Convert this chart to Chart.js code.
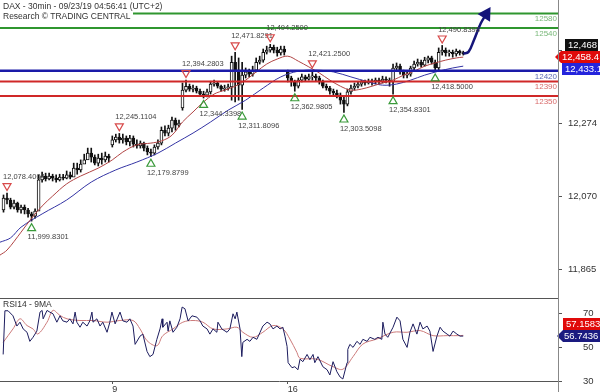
<!DOCTYPE html>
<html>
<head>
<meta charset="utf-8">
<script src="https://cdn.jsdelivr.net/npm/chart.js@4.4.1/dist/chart.umd.min.js"></script>
<style>
  body { margin: 0; background: #fff; }
  #wrap { position: relative; width: 600px; height: 392px; overflow: hidden; background: #fff; }
  #main { position: absolute; left: 0; top: 0; }
  #rsi { position: absolute; left: 0; top: 299px; }
  #sep { position: absolute; left: 0; top: 298px; width: 558px; height: 1px; background: #555; }
  #axisline { position: absolute; left: 558px; top: 0; width: 1px; height: 392px; background: #888; }
  #title { position: absolute; left: 0; top: 1px; font: 8.5px 'Liberation Sans', Arial, sans-serif; color: #333; line-height: 10px; }
  #title div { display: table; background: #fff; padding: 0 2px 0 3px; }
</style>
</head>
<body>
<div id="wrap">
  <canvas id="main" width="600" height="298"></canvas>
  <div id="sep"></div>
  <canvas id="rsi" width="600" height="93"></canvas>
  <div id="axisline"></div>
  <div id="title"><div>DAX - 30min - 09/23/19 04:56:41 (UTC+2)</div><div>Research © TRADING CENTRAL</div></div>
</div>
<script>
Chart.defaults.font.family = "'Liberation Sans', Arial, sans-serif";
Chart.defaults.color = '#333';

// time slots (about 10 per trading day), first candle sits in slot 1
const slotMax = 159;
const firstSlot = 1;
const dayTicks = [32, 82];
const dayLabels = ['9', '16'];

// 30min DAX candles
const priceOpen = [12031,12064,12059,12039,12050,12031,12039,12031,12020,12014,
  12028,12115,12126,12118,12126,12120,12115,12123,12120,12129,
  12123,12148,12143,12159,12171,12190,12179,12162,12176,12171,
  12182,12213,12227,12235,12227,12232,12221,12232,12215,12210,
  12218,12204,12193,12190,12207,12218,12254,12246,12260,12282,
  12268,12316,12366,12377,12369,12372,12363,12355,12352,12361,
  12383,12386,12377,12369,12372,12375,12444,12422,12380,12408,
  12417,12411,12422,12444,12450,12472,12478,12486,12478,12470,
  12481,12417,12400,12389,12377,12394,12403,12397,12403,12405,
  12400,12389,12377,12372,12363,12358,12352,12338,12327,12361,
  12372,12377,12383,12389,12386,12391,12389,12394,12391,12397,
  12394,12389,12428,12433,12417,12408,12411,12428,12439,12444,
  12436,12450,12456,12444,12428,12472,12478,12470,12472,12467,
  12475,12470];
const priceHigh = [12073,12078,12064,12059,12053,12045,12045,12036,12025,12034,
  12129,12137,12134,12134,12131,12129,12131,12131,12140,12137,
  12162,12162,12171,12187,12204,12204,12185,12187,12190,12193,
  12187,12238,12243,12245,12243,12238,12240,12238,12227,12224,
  12221,12210,12201,12213,12227,12263,12266,12268,12291,12288,
  12282,12386,12394,12383,12380,12377,12369,12363,12369,12391,
  12394,12389,12380,12380,12383,12461,12472,12456,12444,12428,
  12425,12433,12456,12461,12481,12489,12494,12492,12486,12489,
  12489,12422,12405,12394,12400,12411,12408,12411,12421,12411,
  12405,12394,12383,12377,12369,12366,12358,12347,12369,12380,
  12386,12391,12394,12394,12397,12397,12400,12400,12405,12403,
  12400,12439,12442,12439,12422,12419,12433,12447,12453,12450,
  12458,12461,12461,12450,12484,12491,12484,12478,12478,12481,
  12478,12475];
const priceLow = [12025,12048,12034,12034,12025,12022,12020,12011,12000,12008,
  12087,12109,12112,12115,12112,12109,12112,12115,12118,12118,
  12137,12131,12137,12162,12176,12165,12157,12154,12159,12165,
  12165,12207,12221,12218,12218,12213,12210,12207,12204,12204,
  12196,12185,12180,12185,12201,12213,12238,12238,12249,12254,
  12263,12310,12361,12363,12361,12358,12349,12344,12347,12355,
  12377,12372,12363,12363,12366,12338,12333,12338,12312,12400,
  12403,12405,12417,12439,12444,12467,12472,12470,12461,12464,
  12464,12389,12377,12363,12372,12389,12391,12394,12394,12391,
  12383,12372,12366,12355,12349,12344,12327,12304,12322,12355,
  12366,12372,12377,12380,12383,12380,12383,12383,12386,12386,
  12377,12355,12419,12411,12400,12400,12405,12422,12433,12430,
  12433,12442,12439,12419,12422,12464,12461,12461,12458,12461,
  12464,12464];
const priceClose = [12064,12059,12039,12050,12031,12039,12031,12020,12014,12028,
  12115,12126,12118,12126,12120,12115,12123,12120,12129,12123,
  12148,12143,12159,12171,12190,12179,12162,12176,12171,12182,
  12176,12227,12235,12227,12232,12221,12232,12215,12210,12218,
  12204,12193,12190,12207,12218,12254,12246,12260,12282,12268,
  12274,12366,12377,12369,12372,12363,12355,12352,12361,12383,
  12386,12377,12369,12372,12375,12444,12422,12380,12408,12417,
  12411,12422,12444,12450,12472,12478,12486,12478,12470,12481,
  12472,12400,12389,12377,12394,12403,12397,12403,12405,12400,
  12389,12377,12372,12363,12358,12352,12338,12327,12361,12372,
  12377,12383,12389,12386,12391,12389,12394,12391,12397,12394,
  12389,12428,12433,12417,12408,12411,12428,12439,12444,12436,
  12450,12456,12444,12428,12472,12478,12470,12472,12467,12475,
  12470,12468];

// moving averages on price
const maFastSlot = [0,2,6,9,12,15,19,23,28,32,35,39,43,46,49,52,55,58,61,64,67,70,73,76,79,82,85,88,91,94,97,100,103,106,109,112,115,118,121,124,127,130,132];
const maFastValue = [11905,11919,11969,12008,12042,12070,12104,12126,12148,12171,12193,12213,12218,12224,12240,12277,12305,12333,12355,12366,12377,12394,12417,12439,12453,12461,12447,12431,12414,12394,12377,12366,12369,12377,12386,12394,12408,12419,12433,12442,12450,12456,12458.4];
const maSlowSlot = [0,3,6,12,19,26,33,39,45,50,55,60,65,70,75,80,85,90,95,100,105,109,113,117,121,125,129,132];
const maSlowValue = [11941,11953,11983,12020,12059,12109,12143,12165,12190,12218,12246,12277,12310,12338,12372,12403,12419,12422,12417,12403,12389,12380,12383,12394,12408,12419,12428,12433.1];

// support / resistance levels
const levelValues = [12580, 12540, 12420, 12390, 12350];
const levelLineColors = ['#2f962f', '#2f962f', '#1a1aa8', '#d02828', '#d02828'];
const levelTextColors = ['#79b879', '#79b879', '#5a68b4', '#d86a6a', '#d86a6a'];

// swing highs / lows
const swingSlot = [2, 9, 34, 43, 53, 58, 67, 69, 77, 84, 89, 98, 112, 124, 126];
const swingPrice = [12078.4004, 11999.8301, 12245.1104, 12179.8799, 12394.2803, 12344.3398, 12471.8291, 12311.8096, 12494.25, 12362.9805, 12421.25, 12303.5098, 12354.8301, 12418.5, 12490.8398];
const swingKind = ['high','low','high','low','high','low','high','low','high','low','high','low','low','low','high'];

// projected path
const arrowSlot = [132, 133.5, 135, 137, 138.5];
const arrowValue = [12468, 12473, 12505, 12553, 12578];

// RSI14 and its 9MA
const rsiSlot = [0.9,1.4,2.3,3.7,4.8,5.7,6.6,7.7,8.5,9.4,10.5,11.4,12,12.3,13.4,14.2,15.1,16.2,17.1,17.9,
  19.1,19.9,20.8,21.4,21.9,22.8,23.6,24.8,25.6,26.2,26.5,27.6,28.5,29.3,30.5,31.3,31.9,32.8,34.2,35,
  36.2,37,37.9,38.5,39.9,40.7,41.9,42.7,43.6,44.7,45.6,46.2,46.4,47.6,47.9,48.4,49.3,50.4,51.3,51.9,
  52.7,53.6,54.7,56.1,57,57.8,59,59.8,60.7,61.8,62.1,63.2,64.7,65.5,66.4,67,67.5,68.4,68.9,69.2,
  70.4,71.2,72.1,73.2,74.1,74.9,76.1,76.9,77.8,78.9,79.8,80.6,81.2,81.8,82.1,83.2,84,84.9,85.5,86.3,
  87.5,88.3,89.2,89.7,90.6,92,93.2,94,94.9,96,96.9,97.7,98.9,99.1,99.7,100.6,101.7,102.6,103.4,104.6,
  105.4,106.8,107.7,108.8,109.1,109.7,110.5,112,113.1,114,114.8,116,116.8,117.7,118.8,119.7,120.5,121.7,122.5,123.4,
  124.5,125.4,126.2,127.4,128.2,129.1,130.2,131.1,132];
const rsiValue = [45.8,71.8,71.8,68.8,62.7,65,61,59,53.6,56,59.7,71,72,67,72,71,70,65,68.8,65.8,
  65,67,64,71,65,62,65,62.7,65.8,71,65,67,62.7,65,59,65,71,64,71,65.8,
  65,67,62.7,51.8,56.7,57.9,47.6,44.5,45.8,54.8,61,67,62,65,59.7,65.8,59,62,67,74,
  73,65.8,68.8,68,65.8,62.7,61,57.9,61,59,65,61,59,61,70,67,71,61,44.5,53,
  54.8,53.6,56,54.8,59,62.7,65,64,61,62.7,61,62,56.7,50.6,40.9,37.9,38.5,36.7,43,41.5,
  45.8,42.7,45.8,40.9,44.5,38.5,36.7,33.6,41.5,35.5,32.4,31.2,40.9,48.8,51.8,50,53.6,51.8,54.8,53.6,
  56,54.8,56,54.8,65,57.9,56,62,68,65.8,54.8,50,59,64,57.9,65,61,62.7,59.7,47.6,
  56.7,62,59.7,57.9,56.7,59.7,57.9,56.7,56.7436];
const rsiMaSlot = [0.9,3.7,5.7,7.7,9.4,10.8,13.4,15.1,17.1,19.1,22.8,26.5,30.5,34.2,37.9,39.9,41.9,44.7,46.4,49.3,
  52.1,55,57.8,60.7,64.7,67.5,69.2,72.1,74.9,77.8,80.6,82.6,84.6,85.5,90.3,94.9,97.7,100.6,103.4,107.4,
  112,116,119.7,123.4,127.4,131.1,132];
const rsiMaValue = [53,61,67,63,61,58,65,72,69,67,66,66,65,66,66,61,54,51,57,61,
  65,66,65,61,61,62,59,56,59,63,61,55,47,43.5,43,38.5,37,44.5,52,55,
  59,59,60,57,57,57,57.1583];

const priceTicks = [11865, 12070, 12274, 12478];
const rsiTicks = [30, 50, 70];

function pts(xs, ys) {
  return xs.map((x, i) => ({x: x, y: ys[i]}));
}

function rightAxis(min, max, ticks, pad, fmt) {
  return {
    position: 'right', min: min, max: max,
    afterFit: s => { s.width = 42; s.paddingTop = 0; s.paddingBottom = 0; },
    afterBuildTicks: s => { s.ticks = ticks.map(v => ({value: v})); },
    grid: {display: true, drawOnChartArea: false, drawTicks: true, tickLength: 4, color: '#555'},
    border: {display: false},
    ticks: {padding: pad, font: {size: 9.5}, color: '#333', callback: fmt}
  };
}

function tag(ctx, text, cy, left, right, fill, arrow) {
  const h = 12;
  ctx.fillStyle = fill;
  ctx.beginPath();
  if (arrow) {
    ctx.moveTo(left, cy);
    ctx.lineTo(left + 6, cy - h / 2);
    ctx.lineTo(right, cy - h / 2);
    ctx.lineTo(right, cy + h / 2);
    ctx.lineTo(left + 6, cy + h / 2);
  } else {
    ctx.rect(left, cy - h / 2, right - left, h);
  }
  ctx.closePath();
  ctx.fill();
  ctx.fillStyle = '#fff';
  ctx.font = "9.5px 'Liberation Sans', Arial, sans-serif";
  ctx.textAlign = 'left';
  ctx.textBaseline = 'middle';
  ctx.fillText(text, arrow ? left + 7 : left + 3, cy + 0.5);
}

function triangle(ctx, cx, cy, down, color) {
  const w = 4, h = 3.5;
  ctx.beginPath();
  if (down) {
    ctx.moveTo(cx - w, cy - h); ctx.lineTo(cx + w, cy - h); ctx.lineTo(cx, cy + h);
  } else {
    ctx.moveTo(cx - w, cy + h); ctx.lineTo(cx + w, cy + h); ctx.lineTo(cx, cy - h);
  }
  ctx.closePath();
  ctx.strokeStyle = color;
  ctx.lineWidth = 1.2;
  ctx.stroke();
}

const fmt4 = v => v.toLocaleString('en-US', {minimumFractionDigits: 4, maximumFractionDigits: 4});
const fmt1 = v => v.toLocaleString('en-US', {minimumFractionDigits: 1, maximumFractionDigits: 1});

const mainOverlay = {
  id: 'mainOverlay',
  afterDatasetsDraw(chart) {
    const {ctx, chartArea} = chart;
    const x = chart.scales.x, y = chart.scales.y;
    ctx.save();
    ctx.font = "8px 'Liberation Sans', Arial, sans-serif";
    ctx.textAlign = 'right';
    ctx.textBaseline = 'middle';
    levelValues.forEach((v, i) => {
      ctx.fillStyle = levelTextColors[i];
      ctx.fillText(String(v), chartArea.right - 1, y.getPixelForValue(v) + 5.5);
    });
    ctx.font = "7.5px 'Liberation Sans', Arial, sans-serif";
    ctx.textAlign = 'left';
    swingSlot.forEach((s, i) => {
      const px = x.getPixelForValue(s);
      const py = y.getPixelForValue(swingPrice[i]);
      const high = swingKind[i] === 'high';
      triangle(ctx, px, high ? py - 6 : py + 6, high, high ? '#d84a4a' : '#3a9a3a');
      ctx.fillStyle = '#444';
      ctx.fillText(fmt4(swingPrice[i]), px - 4, high ? py - 16 : py + 16);
    });
    ctx.restore();
  },
  afterDraw(chart) {
    const {ctx} = chart;
    const y = chart.scales.y;
    const fast = maFastValue[maFastValue.length - 1];
    const slow = maSlowValue[maSlowValue.length - 1];
    const last = priceClose[priceClose.length - 1];
    const yr = y.getPixelForValue(fast);
    ctx.save();
    tag(ctx, last.toLocaleString('en-US'), yr - 12, 565, 598, '#111', false);
    tag(ctx, fmt1(fast), yr, 555, 600, '#e00a0a', true);
    tag(ctx, fmt1(slow), yr + 12, 562, 600, '#2424dc', false);
    ctx.restore();
  }
};

const levelSets = levelValues.map((v, i) => ({
  type: 'line',
  data: [{x: 0, y: v}, {x: slotMax, y: v}],
  borderColor: levelLineColors[i],
  borderWidth: i === 2 ? 2.5 : 2,
  pointRadius: 0,
  order: 1
}));

// hollow bodies for rising candles, solid for falling ones
const bodyFill = priceOpen.map((o, i) => priceClose[i] >= o ? '#fff' : '#111');

new Chart(document.getElementById('main'), {
  type: 'bar',
  data: {
    datasets: [
      {
        type: 'line',
        data: pts(arrowSlot, arrowValue),
        borderColor: '#15157a',
        backgroundColor: '#15157a',
        borderWidth: 2.5,
        tension: 0.4,
        pointRadius: [0, 0, 0, 0, 6],
        pointStyle: 'triangle',
        rotation: 32,
        order: 0
      },
      ...levelSets,
      {
        type: 'line',
        data: pts(maFastSlot, maFastValue),
        borderColor: '#b04444',
        borderWidth: 1,
        tension: 0.35,
        pointRadius: 0,
        order: 2
      },
      {
        type: 'line',
        data: pts(maSlowSlot, maSlowValue),
        borderColor: '#3434a4',
        borderWidth: 1,
        tension: 0.35,
        pointRadius: 0,
        order: 2
      },
      {
        data: priceOpen.map((o, i) => ({x: i + firstSlot, y: [o, priceClose[i]]})),
        backgroundColor: bodyFill,
        borderColor: '#111',
        borderWidth: 1,
        borderSkipped: false,
        barThickness: 3,
        minBarLength: 1,
        grouped: false,
        order: 3
      },
      {
        data: priceLow.map((l, i) => ({x: i + firstSlot, y: [l, priceHigh[i]]})),
        backgroundColor: '#111',
        barThickness: 1,
        grouped: false,
        order: 4
      }
    ]
  },
  options: {
    responsive: false,
    animation: false,
    events: [],
    layout: {padding: 0, autoPadding: false},
    plugins: {legend: {display: false}, tooltip: {enabled: false}},
    scales: {
      x: {type: 'linear', min: 0, max: slotMax, display: false, offset: false, grid: {offset: false}},
      y: rightAxis(11785, 12618, priceTicks, 6, v => v.toLocaleString('en-US'))
    }
  },
  plugins: [mainOverlay]
});

const rsiOverlay = {
  id: 'rsiOverlay',
  afterDraw(chart) {
    const {ctx} = chart;
    const y = chart.scales.y;
    const rsiLast = rsiValue[rsiValue.length - 1];
    const maLast = rsiMaValue[rsiMaValue.length - 1];
    const yb = y.getPixelForValue(rsiLast);
    ctx.save();
    ctx.font = "8.5px 'Liberation Sans', Arial, sans-serif";
    ctx.fillStyle = '#333';
    ctx.textAlign = 'left';
    ctx.textBaseline = 'middle';
    ctx.fillText('RSI14 - 9MA', 3, 6);
    tag(ctx, maLast.toFixed(4), yb - 12, 563, 600, '#e00a0a', false);
    tag(ctx, rsiLast.toFixed(4), yb, 557, 600, '#1a1a80', true);
    ctx.restore();
  }
};

new Chart(document.getElementById('rsi'), {
  type: 'line',
  data: {
    datasets: [
      {
        data: pts(rsiSlot, rsiValue),
        borderColor: '#1c1c5e',
        borderWidth: 1,
        tension: 0,
        pointRadius: 0
      },
      {
        data: pts(rsiMaSlot, rsiMaValue),
        borderColor: '#cc7a7a',
        borderWidth: 1,
        tension: 0.35,
        pointRadius: 0
      }
    ]
  },
  options: {
    responsive: false,
    animation: false,
    events: [],
    layout: {padding: 0, autoPadding: false},
    plugins: {legend: {display: false}, tooltip: {enabled: false}},
    scales: {
      x: {
        type: 'linear', min: 0, max: slotMax, offset: false,
        afterFit: s => { s.height = 11; s.paddingLeft = 0; s.paddingRight = 0; },
        afterBuildTicks: s => { s.ticks = dayTicks.map(v => ({value: v})); },
        grid: {display: true, drawOnChartArea: false, tickLength: 3, color: '#555'},
        border: {display: true, color: '#555'},
        ticks: {
          padding: 0, align: 'start', maxRotation: 0, autoSkip: false,
          font: {size: 9}, color: '#333',
          callback: v => { const i = dayTicks.indexOf(v); return i >= 0 ? dayLabels[i] : ''; }
        }
      },
      y: rightAxis(30, 78.8, rsiTicks, 21, v => String(v))
    }
  },
  plugins: [rsiOverlay]
});
</script>
</body>
</html>
